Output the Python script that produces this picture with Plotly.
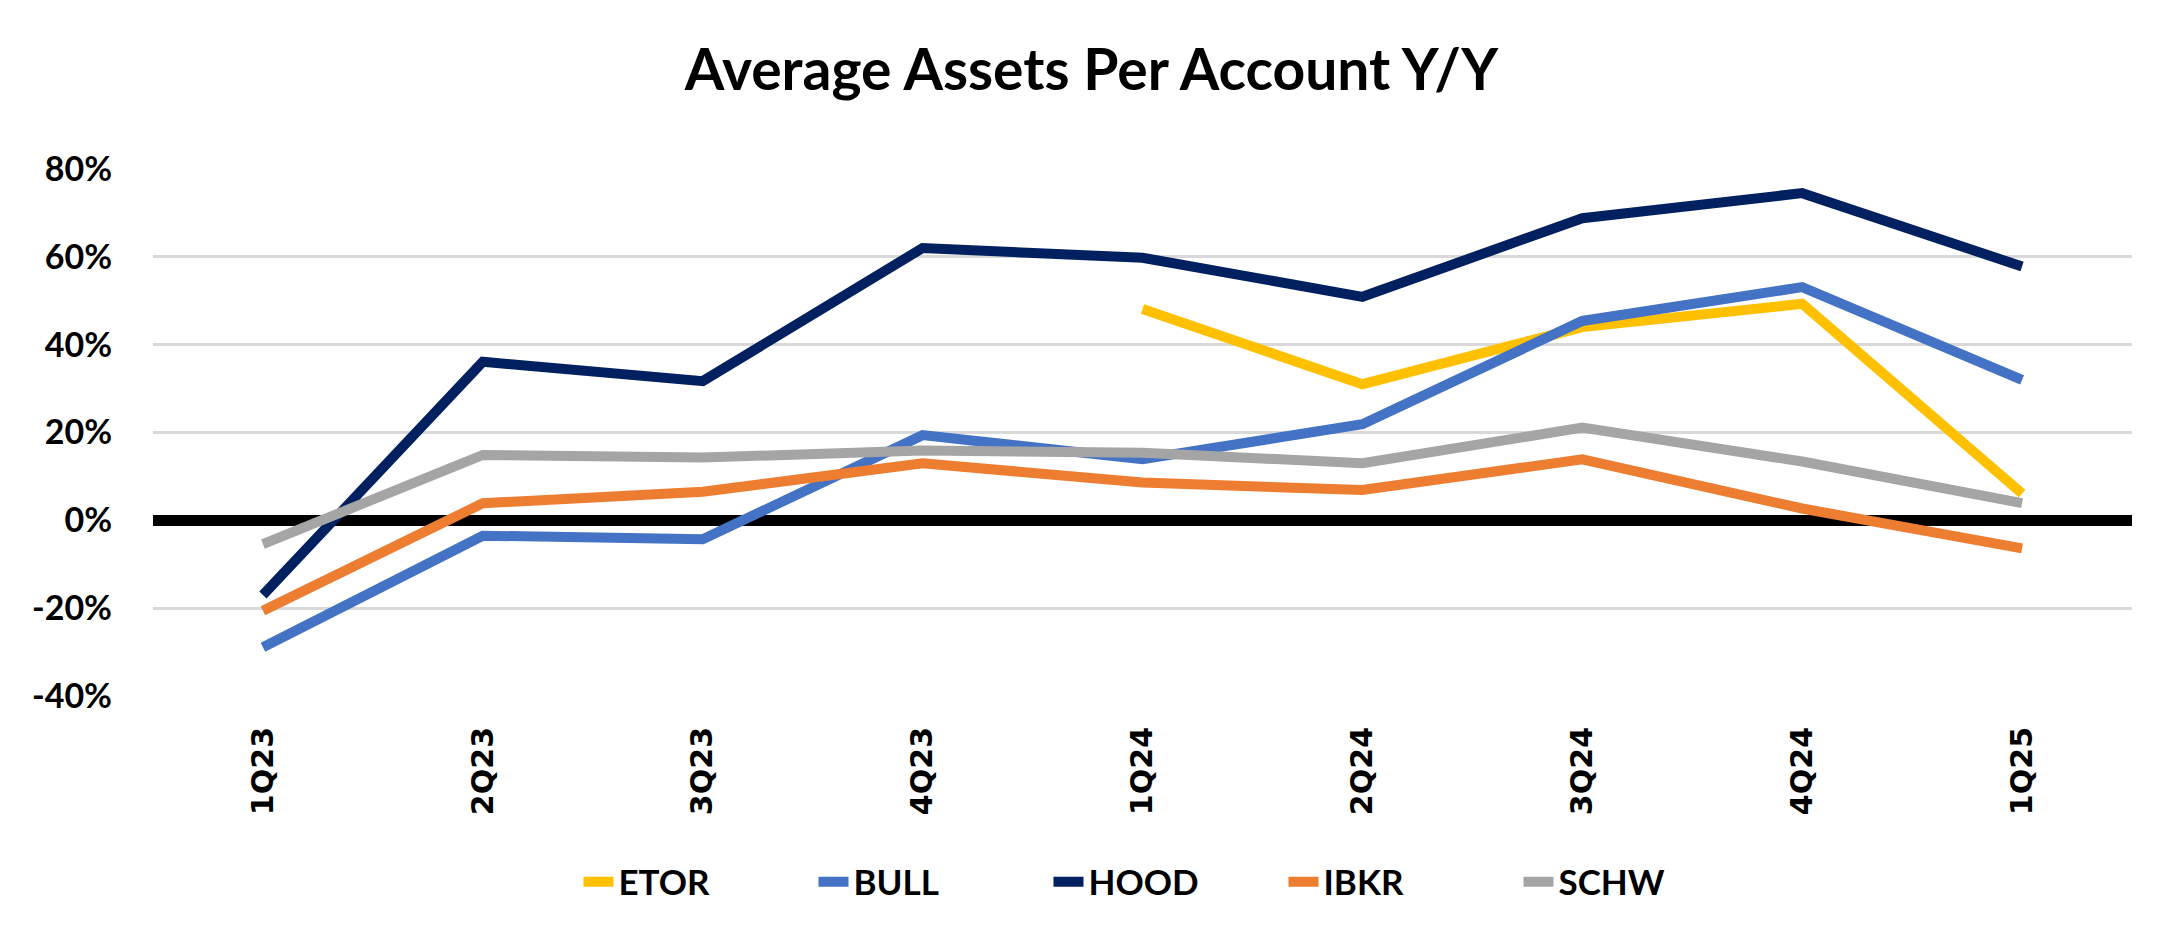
import plotly.graph_objects as go

categories = ["1Q23", "2Q23", "3Q23", "4Q23", "1Q24", "2Q24", "3Q24", "4Q24", "1Q25"]

etor = [None, None, None, None, 0.481, 0.310, 0.440, 0.493, 0.061]
bull = [-0.289, -0.035, -0.043, 0.194, 0.139, 0.219, 0.454, 0.531, 0.320]
hood = [-0.170, 0.361, 0.317, 0.620, 0.598, 0.509, 0.688, 0.745, 0.578]
ibkr = [-0.206, 0.039, 0.065, 0.130, 0.086, 0.069, 0.139, 0.027, -0.064]
schw = [-0.054, 0.149, 0.143, 0.159, 0.154, 0.130, 0.211, 0.134, 0.039]

series_names = ["ETOR", "BULL", "HOOD", "IBKR", "SCHW"]
series_colors = ["#FFC000", "#4472C4", "#002060", "#ED7D31", "#A5A5A5"]

y_tickvals = [-0.4, -0.2, 0.0, 0.2, 0.4, 0.6, 0.8]
y_ticktext = ["-40%", "-20%", "0%", "20%", "40%", "60%", "80%"]

title_text = "Average Assets Per Account Y/Y"

fig = go.Figure()
for name, vals, col in zip(series_names, [etor, bull, hood, ibkr, schw], series_colors):
    fig.add_trace(go.Scatter(
        x=categories, y=vals, name=name, mode="lines",
        line=dict(color=col, width=10),
        connectgaps=False,
    ))

fig.update_layout(
    width=2183, height=948,
    paper_bgcolor="white", plot_bgcolor="white",
    margin=dict(l=153, r=51, t=169, b=252, autoexpand=False),
    title=dict(
        text=title_text, x=0.5, xref="container", xanchor="center",
        y=1 - 70 / 948, yref="container", yanchor="middle",
        font=dict(family="Lato", size=57, color="black", weight="bold"),
    ),
    xaxis=dict(
        type="category", range=[-0.5, 8.5],
        showgrid=False, showline=False, zeroline=False,
        tickangle=-90, ticks="",
        ticklabelstandoff=24,
        tickfont=dict(family="DejaVu Sans", size=30, color="black", weight="bold"),
    ),
    yaxis=dict(
        range=[-0.4, 0.8], tickvals=y_tickvals, ticktext=y_ticktext,
        showgrid=True, gridcolor="#D9D9D9", gridwidth=3,
        zeroline=True, zerolinecolor="black", zerolinewidth=11,
        showline=False, ticks="",
        ticklabelstandoff=40,
        tickfont=dict(family="Lato", size=34, color="black", weight="bold"),
    ),
    legend=dict(
        orientation="h", x=0.215, xanchor="left", y=-0.353, yanchor="middle",
        font=dict(family="Lato", size=35, color="black", weight="bold"),
        entrywidth=190, bgcolor="rgba(0,0,0,0)",
    ),
    showlegend=True,
)

fig.write_html(
    "out.html",
    config={"displayModeBar": False},
    post_script="document.body.style.margin='0';document.body.style.overflow='hidden';",
)
